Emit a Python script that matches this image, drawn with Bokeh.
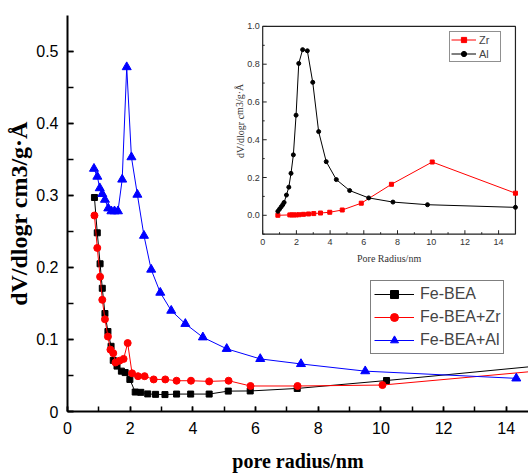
from bokeh.plotting import figure
from bokeh.models import Range1d, SingleIntervalTicker, Legend, LegendItem
from bokeh.core.properties import value
from bokeh.embed import file_html
from bokeh.resources import INLINE

# ---------------- data: main plot ----------------
bea_x = [0.86, 0.95, 1.04, 1.11, 1.195, 1.29, 1.39, 1.46, 1.58, 1.72, 1.84, 1.99,
         2.16, 2.34, 2.56, 2.81, 3.11, 3.48, 3.93, 4.52, 5.13, 5.83, 7.33, 10.18, 15.2]
bea_y = [0.297, 0.248, 0.205, 0.171, 0.136, 0.111, 0.0905, 0.071, 0.063, 0.056, 0.054, 0.0445,
         0.027, 0.0266, 0.0244, 0.0238, 0.0235, 0.0242, 0.0242, 0.0242, 0.0283, 0.0285, 0.032, 0.043, 0.064]

zr_x = [0.86, 0.95, 1.04, 1.11, 1.195, 1.29, 1.37, 1.46, 1.53, 1.66, 1.79, 1.92, 2.06,
        2.25, 2.46, 2.75, 3.12, 3.48, 3.94, 4.52, 5.14, 5.84, 7.34, 10.05, 15.2]
zr_y = [0.272, 0.227, 0.187, 0.155, 0.128, 0.104, 0.0858, 0.081, 0.068, 0.0705, 0.073, 0.095, 0.053,
        0.049, 0.049, 0.0445, 0.0445, 0.0427, 0.0427, 0.0418, 0.0427, 0.0354, 0.0354, 0.0367, 0.057]

al_x = [0.845, 0.952, 1.03, 1.11, 1.195, 1.30, 1.40, 1.50, 1.61, 1.745, 1.89, 2.04, 2.23,
        2.44, 2.67, 2.96, 3.31, 3.76, 4.32, 5.08, 6.15, 7.45, 9.5, 14.32]
al_y = [0.337, 0.326, 0.310, 0.302, 0.294, 0.282, 0.278, 0.278, 0.278, 0.322, 0.478, 0.353, 0.301,
        0.244, 0.197, 0.165, 0.140, 0.1217, 0.103, 0.087, 0.073, 0.066, 0.056, 0.046]

# ---------------- data: inset ----------------
in_al_x = [0.90, 1.0, 1.10, 1.19, 1.27, 1.41, 1.55, 1.68, 1.82, 1.98, 2.14, 2.37, 2.65, 2.97,
           3.32, 3.77, 4.37, 5.16, 6.29, 7.73, 9.78, 15.0]
in_al_y = [0.021, 0.033, 0.045, 0.056, 0.068, 0.107, 0.149, 0.222, 0.320, 0.530, 0.804, 0.877,
           0.871, 0.704, 0.443, 0.284, 0.189, 0.131, 0.092, 0.070, 0.056, 0.042]
in_zr_x = [0.90, 1.61, 1.73, 1.85, 1.99, 2.16, 2.42, 2.72, 3.03, 3.43, 3.98, 4.72, 5.85,
           7.64, 10.06, 15.0]
in_zr_y = [0.0, 0.002, 0.002, 0.002, 0.002, 0.003, 0.005, 0.007, 0.009, 0.012, 0.016, 0.028,
           0.064, 0.164, 0.282, 0.117]

inset_x_ticks = [0, 2, 4, 6, 8, 10, 12, 14]
inset_x_minor = [1, 3, 5, 7, 9, 11, 13]
inset_y_ticks = [0.0, 0.2, 0.4, 0.6, 0.8, 1.0]
inset_y_minor = [-0.1, 0.1, 0.3, 0.5, 0.7, 0.9]
inset_x_labels = ["0", "2", "4", "6", "8", "10", "12", "14"]
inset_y_labels = ["0.0", "0.2", "0.4", "0.6", "0.8", "1.0"]

# ---------------- layout constants (page pixels; figure sits at the page origin) ----------------
W, H = 528, 474
FL, FR, FT, FB = 67.0, 528.0, 15.0, 414.0         # main frame edges
XPPU, YPPU = 31.34, 726.0                         # main scale, px per unit
IX0, IXP = 262.2, 16.85                           # inset: x=0 pixel, px per unit
IY0, IYP = 216.3, 190.3                           # inset: y=0 pixel, px per unit

p = figure(width=W, height=H, output_backend="svg", toolbar_location=None,
           x_range=Range1d(0, (FR - FL) / XPPU), y_range=Range1d(0, (FB - FT) / YPPU),
           min_border_left=int(FL), min_border_right=int(W - FR),
           min_border_top=int(FT), min_border_bottom=int(H - FB))
p.outline_line_color = None
p.xgrid.visible = False
p.ygrid.visible = False
p.background_fill_color = "white"

p.extra_x_ranges = {"ix": Range1d(-(IX0 - FL) / IXP, (FR - IX0) / IXP)}
p.extra_y_ranges = {"iy": Range1d(-(FB - IY0) / IYP, (IY0 - FT) / IYP)}

# axes
for ax in (p.xaxis[0], p.yaxis[0]):
    ax.axis_line_width = 2
    ax.axis_line_color = "black"
    ax.major_tick_out = 0
    ax.minor_tick_out = 0
    ax.major_tick_line_width = 1.5
    ax.minor_tick_line_width = 1.5
    ax.major_label_text_font = "Liberation Sans"
    ax.major_label_text_font_size = "16px"
    ax.major_label_text_color = "black"
    ax.axis_label_text_font = "Liberation Serif"
    ax.axis_label_text_font_style = "bold"
    ax.axis_label_text_color = "black"

p.xaxis.ticker = SingleIntervalTicker(interval=2, num_minor_ticks=2)
p.yaxis.ticker = SingleIntervalTicker(interval=0.1, num_minor_ticks=2)
p.xaxis.major_tick_in = 5
p.xaxis.minor_tick_in = 5
p.yaxis.major_tick_in = 6
p.yaxis.minor_tick_in = 6
p.xaxis.major_label_standoff = 10
p.yaxis.major_label_standoff = 9
p.xaxis.axis_label = "pore radius/nm"
p.yaxis.axis_label = "dV/dlogr cm3/g·Å"
p.xaxis.axis_label_text_font_size = "20px"
p.yaxis.axis_label_text_font_size = "24px"
p.xaxis.axis_label_standoff = 13
p.yaxis.axis_label_standoff = 1
p.yaxis.formatter.use_scientific = False

# main series
r1l = p.line(bea_x, bea_y, line_color="black", line_width=1)
r1m = p.scatter(bea_x, bea_y, marker="square", size=6, fill_color="black", line_color="black")
r2l = p.line(zr_x, zr_y, line_color="#ff0000", line_width=1)
r2m = p.scatter(zr_x, zr_y, marker="circle", size=7, fill_color="#ff0000", line_color="#ff0000")
r3l = p.line(al_x, al_y, line_color="#0000ff", line_width=1)
r3m = p.scatter(al_x, al_y, marker="triangle", size=9, fill_color="#0000ff", line_color="#0000ff")

leg = Legend(items=[LegendItem(label="Fe-BEA", renderers=[r1l, r1m]),
                    LegendItem(label="Fe-BEA+Zr", renderers=[r2l, r2m]),
                    LegendItem(label="Fe-BEA+Al", renderers=[r3l, r3m])],
             location=(303, 57), orientation="vertical",
             label_text_font="Liberation Sans", label_text_font_size="16px",
             glyph_width=40, glyph_height=20, label_height=20, spacing=3,
             padding=3, margin=0, label_standoff=6,
             border_line_color="black", border_line_width=1,
             background_fill_color="white", background_fill_alpha=1)
p.add_layout(leg)

# ---------------- inset ----------------
IR = dict(x_range_name="ix", y_range_name="iy")
p.quad(left=0, right=15, bottom=-0.1, top=1.0, fill_color="white",
       line_color="#222222", line_width=1.2, **IR)

tick_major_y = 4.0 / IYP
tick_minor_y = 2.0 / IYP
tick_major_x = 4.0 / IXP
tick_minor_x = 2.0 / IXP
p.segment(x0=inset_x_ticks, y0=[-0.1] * len(inset_x_ticks), x1=inset_x_ticks,
          y1=[-0.1 + tick_major_y] * len(inset_x_ticks), line_color="#222222", line_width=1, **IR)
p.segment(x0=inset_x_minor, y0=[-0.1] * len(inset_x_minor), x1=inset_x_minor,
          y1=[-0.1 + tick_minor_y] * len(inset_x_minor), line_color="#222222", line_width=1, **IR)
p.segment(x0=[0] * len(inset_y_ticks), y0=inset_y_ticks, x1=[tick_major_x] * len(inset_y_ticks),
          y1=inset_y_ticks, line_color="#222222", line_width=1, **IR)
p.segment(x0=[0] * len(inset_y_minor), y0=inset_y_minor, x1=[tick_minor_x] * len(inset_y_minor),
          y1=inset_y_minor, line_color="#222222", line_width=1, **IR)

p.text(x=inset_x_ticks, y=[-0.1 - 7.5 / IYP] * len(inset_x_ticks), text=inset_x_labels,
       text_font=value("Liberation Sans"), text_font_size="9px", text_color="#333333",
       text_align="center", text_baseline="middle", **IR)
p.text(x=[-3.0 / IXP] * len(inset_y_ticks), y=inset_y_ticks, text=inset_y_labels,
       text_font=value("Liberation Sans"), text_font_size="9px", text_color="#333333",
       text_align="right", text_baseline="middle", **IR)
p.text(x=[7.5], y=[-(260 - IY0) / IYP], text=["Pore Radius/nm"],
       text_font=value("Liberation Serif"), text_font_size="10px", text_color="#333333",
       text_align="center", text_baseline="middle", **IR)
p.text(x=[-(IX0 - 239.5) / IXP], y=[0.5], text=["dV/dlogr cm3/g·Å"], angle=1.5708,
       text_font=value("Liberation Serif"), text_font_size="10px", text_color="#333333",
       text_align="center", text_baseline="middle", **IR)

i1l = p.line(in_zr_x, in_zr_y, line_color="#ff0000", line_width=1, **IR)
i1m = p.scatter(in_zr_x, in_zr_y, marker="square", size=4, fill_color="#ff0000",
                line_color="#ff0000", **IR)
i2l = p.line(in_al_x, in_al_y, line_color="black", line_width=1, **IR)
i2m = p.scatter(in_al_x, in_al_y, marker="circle", size=4, fill_color="black",
                line_color="black", **IR)

leg2 = Legend(items=[LegendItem(label="Zr", renderers=[i1l, i1m]),
                     LegendItem(label="Al", renderers=[i2l, i2m])],
              location=(382, 349), orientation="vertical",
              label_text_font="Liberation Sans", label_text_font_size="11px",
              glyph_width=25, glyph_height=13, label_height=13, spacing=1,
              padding=1, margin=0, label_standoff=3,
              border_line_color="#222222", border_line_width=1,
              background_fill_color="white", background_fill_alpha=1)
p.add_layout(leg2)

open("out.html", "w").write(file_html(p, INLINE))
